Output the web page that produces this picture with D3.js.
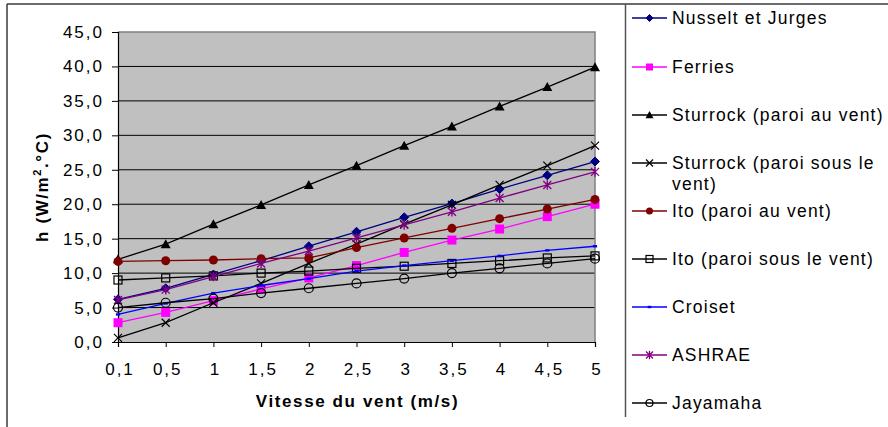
<!DOCTYPE html>
<html>
<head>
<meta charset="utf-8">
<script src="https://cdn.jsdelivr.net/npm/d3@7"></script>
<style>
  html, body { margin: 0; padding: 0; background: #fff; }
  svg { display: block; font-family: "Liberation Sans", Arial, sans-serif; }
</style>
</head>
<body>
<svg id="chart" width="888" height="427"></svg>
<script>
// ---- data ----
const categories = ["0,1", "0,5", "1", "1,5", "2", "2,5", "3", "3,5", "4", "4,5", "5"];
const yTicks = [0, 5, 10, 15, 20, 25, 30, 35, 40, 45];

const nusseltJurges   = [6.2, 7.8, 9.8, 11.8, 13.9, 16.0, 18.1, 20.1, 22.2, 24.2, 26.2];
const ferries         = [2.8, 4.3, 6.0, 7.7, 9.3, 11.1, 13.0, 14.8, 16.4, 18.2, 20.0];
const sturrockVent    = [12.0, 14.2, 17.1, 19.9, 22.8, 25.6, 28.5, 31.3, 34.2, 37.0, 39.9];
const sturrockSous    = [0.6, 2.8, 5.7, 8.5, 11.4, 14.2, 17.1, 19.9, 22.8, 25.6, 28.5];
const itoVent         = [11.7, 11.8, 11.9, 12.1, 12.2, 13.7, 15.1, 16.5, 17.9, 19.3, 20.7];
const itoSous         = [9.0, 9.3, 9.6, 10.0, 10.3, 10.7, 11.0, 11.4, 11.8, 12.2, 12.5];
const croiset         = [4.0, 5.6, 7.1, 8.2, 9.2, 10.3, 11.1, 11.8, 12.5, 13.3, 13.9];
const ashrae          = [6.1, 7.6, 9.5, 11.4, 13.2, 15.1, 17.0, 18.9, 20.9, 22.8, 24.7];
const jayamaha        = [5.0, 5.7, 6.3, 7.1, 7.8, 8.5, 9.2, 10.0, 10.7, 11.4, 12.1];

const seriesNames = ["Nusselt et Jurges", "Ferries", "Sturrock (paroi au vent)",
  "Sturrock (paroi sous le vent)", "Ito (paroi au vent)", "Ito (paroi sous le vent)",
  "Croiset", "ASHRAE", "Jayamaha"];
const seriesValues = [nusseltJurges, ferries, sturrockVent, sturrockSous, itoVent,
  itoSous, croiset, ashrae, jayamaha];

// ---- styles ----
const styles = [
  { color: "#000080", marker: "diamond" },
  { color: "#FF00FF", marker: "square" },
  { color: "#000000", marker: "triangle" },
  { color: "#000000", marker: "x" },
  { color: "#800000", marker: "circle" },
  { color: "#000000", marker: "openSquare" },
  { color: "#0000FF", marker: "dash" },
  { color: "#800080", marker: "star" },
  { color: "#000000", marker: "openCircle" }
];

const svg = d3.select("#chart");
const pL = 118, pR = 595, pT = 32, pB = 342;
const tickFont = 17, tickLS = 2;

const x = d3.scalePoint().domain(categories).range([pL, pR]);
const y = d3.scaleLinear().domain([0, 45]).range([pB, pT]);

// outer frame
svg.append("line").attr("x1", 7).attr("y1", 4).attr("x2", 888).attr("y2", 4)
  .attr("stroke", "#3a3a3a").attr("stroke-width", 1.5);
svg.append("line").attr("x1", 7).attr("y1", 4).attr("x2", 7).attr("y2", 427)
  .attr("stroke", "#3a3a3a").attr("stroke-width", 1.5);

// plot background
svg.append("rect").attr("x", pL).attr("y", pT).attr("width", pR - pL)
  .attr("height", pB - pT).attr("fill", "#C0C0C0");

// gridlines
svg.append("g").selectAll("line").data(yTicks.filter(d => d > 0 && d < 45)).join("line")
  .attr("x1", pL).attr("x2", pR).attr("y1", d => y(d)).attr("y2", d => y(d))
  .attr("stroke", "#000").attr("stroke-width", 1);

// plot border (top/right)
svg.append("path").attr("d", `M${pL},${pT}H${pR}V${pB}`)
  .attr("fill", "none").attr("stroke", "#808080").attr("stroke-width", 1.5);

const fmt = v => d3.format(".1f")(v).replace(".", ",");

// y axis
const yAxis = svg.append("g").attr("transform", `translate(${pL},0)`)
  .call(d3.axisLeft(y).tickValues(yTicks).tickSize(6).tickPadding(8).tickFormat(fmt));
yAxis.select(".domain").attr("stroke", "#000").attr("stroke-width", 1.2);
yAxis.selectAll(".tick line").attr("stroke", "#000");
yAxis.selectAll(".tick text").attr("font-size", tickFont).attr("fill", "#000")
  .style("letter-spacing", tickLS + "px").attr("font-family", "Liberation Sans, Arial, sans-serif");

// x axis
const xAxis = svg.append("g").attr("transform", `translate(0,${pB})`)
  .call(d3.axisBottom(x).tickSize(5).tickPadding(15.5));
xAxis.select(".domain").attr("stroke", "#000").attr("stroke-width", 1.2);
xAxis.selectAll(".tick line").attr("stroke", "#000");
xAxis.selectAll(".tick text").attr("font-size", tickFont).attr("fill", "#000")
  .attr("dx", tickLS / 2 + 0.5)
  .style("letter-spacing", tickLS + "px").attr("font-family", "Liberation Sans, Arial, sans-serif");

// axis titles
svg.append("text").attr("x", (pL + pR) / 2 + 1).attr("y", 407)
  .attr("text-anchor", "middle").attr("font-size", 17).attr("font-weight", "bold")
  .style("letter-spacing", "1.6px").text("Vitesse du vent (m/s)");

const yt = svg.append("text").attr("transform", `translate(48,${(pT + pB) / 2}) rotate(-90)`)
  .attr("text-anchor", "middle").attr("font-size", 17).attr("font-weight", "bold")
  .style("letter-spacing", "1.6px");
yt.append("tspan").text("h (W/m");
yt.append("tspan").attr("font-size", 11).attr("dy", -7).text("2");
yt.append("tspan").attr("dy", 7).text(".°C)");

// marker drawing
function drawMarker(g, type, color, s) {
  switch (type) {
    case "diamond":
      g.append("path").attr("d", `M0,${-s}L${s},0L0,${s}L${-s},0Z`).attr("fill", color).attr("stroke", color);
      break;
    case "square":
      g.append("rect").attr("x", -s).attr("y", -s).attr("width", 2 * s).attr("height", 2 * s).attr("fill", color);
      break;
    case "triangle":
      g.append("path").attr("d", `M0,${-s}L${s},${s * 0.8}L${-s},${s * 0.8}Z`).attr("fill", color);
      break;
    case "x":
      g.append("path").attr("d", `M${-s},${-s}L${s},${s}M${-s},${s}L${s},${-s}`).attr("stroke", color).attr("stroke-width", 1.2);
      break;
    case "circle":
      g.append("circle").attr("r", s).attr("fill", color);
      break;
    case "openSquare":
      g.append("rect").attr("x", -s).attr("y", -s).attr("width", 2 * s).attr("height", 2 * s)
        .attr("fill", "none").attr("stroke", color).attr("stroke-width", 1.2);
      break;
    case "dash":
      g.append("rect").attr("x", -s * 0.6).attr("y", -1.2).attr("width", s * 1.2).attr("height", 2.4).attr("fill", color);
      break;
    case "star":
      g.append("path").attr("d", `M${-s},${-s}L${s},${s}M${-s},${s}L${s},${-s}M0,${-s * 1.2}L0,${s * 1.2}`)
        .attr("stroke", color).attr("stroke-width", 1.3);
      break;
    case "openCircle":
      g.append("circle").attr("r", s).attr("fill", "none").attr("stroke", color).attr("stroke-width", 1.2);
      break;
  }
}

const markerSize = { diamond: 4.5, square: 4.5, triangle: 5, x: 4, circle: 4.5,
  openSquare: 4, dash: 3.5, star: 4, openCircle: 4.5 };

const line = d3.line().x((d, i) => x(categories[i])).y(d => y(d));

seriesValues.forEach((vals, si) => {
  const st = styles[si];
  const g = svg.append("g");
  g.append("path").datum(vals).attr("d", line).attr("fill", "none")
    .attr("stroke", st.color).attr("stroke-width", 1.3);
  vals.forEach((v, i) => {
    const mg = g.append("g").attr("transform", `translate(${x(categories[i])},${y(v)})`);
    drawMarker(mg, st.marker, st.color, markerSize[st.marker]);
  });
});

// legend
svg.append("line").attr("x1", 625.5).attr("x2", 625.5).attr("y1", 4).attr("y2", 417)
  .attr("stroke", "#555").attr("stroke-width", 1.5);

const legendY = [18, 67, 115, 163, 211, 259, 307, 355, 403];
const legendSize = { diamond: 3.5, square: 3.5, triangle: 4, x: 3.5, circle: 3.5,
  openSquare: 3.5, dash: 3, star: 3.5, openCircle: 3.5 };

seriesNames.forEach((name, si) => {
  const st = styles[si];
  const g = svg.append("g").attr("transform", `translate(0,${legendY[si]})`);
  g.append("line").attr("x1", 632).attr("x2", 667).attr("y1", 0).attr("y2", 0)
    .attr("stroke", st.color).attr("stroke-width", 1.3);
  const mg = g.append("g").attr("transform", "translate(649.5,0)");
  drawMarker(mg, st.marker, st.color, legendSize[st.marker]);
  const t = g.append("text").attr("x", 672).attr("y", 6).attr("font-size", 17.5)
    .style("letter-spacing", "1.2px").attr("fill", "#000");
  if (name === "Sturrock (paroi sous le vent)") {
    t.append("tspan").attr("x", 672).text("Sturrock (paroi sous le");
    t.append("tspan").attr("x", 672).attr("dy", 21).text("vent)");
  } else {
    t.text(name);
  }
});
</script>
</body>
</html>
